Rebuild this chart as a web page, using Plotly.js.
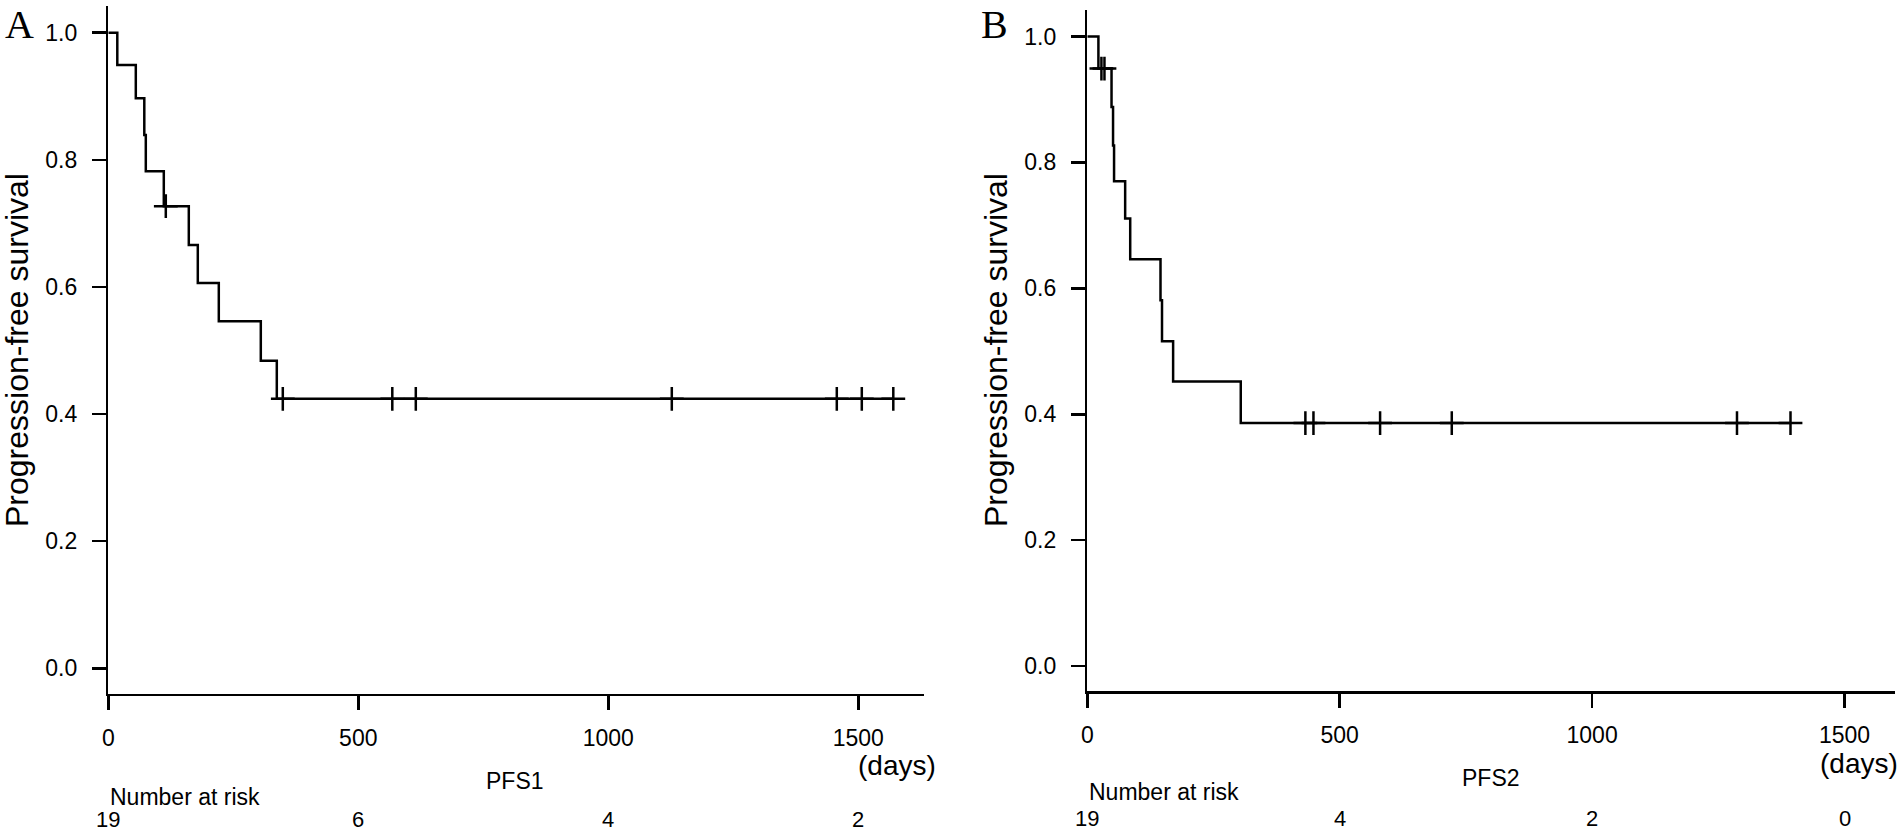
<!DOCTYPE html>
<html>
<head>
<meta charset="utf-8">
<script src="https://cdn.plot.ly/plotly-3.0.1.min.js"></script>
<style>
  html, body { margin: 0; padding: 0; background: #fff; }
  #chart { width: 1902px; height: 832px; }
</style>
</head>
<body>
<div id="chart"></div>
<script>
// ---- Data ----
// Panel A (PFS1): Kaplan-Meier step points
var pfs1Times = [0, 18, 55, 72, 75, 111, 161, 179, 221, 305, 337, 1570];
var pfs1Surv  = [1.0, 0.949, 0.897, 0.839, 0.782, 0.727, 0.666, 0.606, 0.546, 0.484, 0.424, 0.424];
var pfs1CensorTimes = [115, 349, 568, 615, 1127, 1457, 1507, 1570];
var pfs1RiskTimes = [0, 500, 1000, 1500];
var pfs1AtRisk = ["19", "6", "4", "2"];

// Panel B (PFS2)
var pfs2Times = [0, 22, 48, 51, 53, 75, 85, 145, 148, 170, 304, 1393];
var pfs2Surv  = [1.0, 0.949, 0.888, 0.827, 0.770, 0.711, 0.646, 0.581, 0.516, 0.452, 0.386, 0.386];
var pfs2CensorTimes = [28, 34, 432, 448, 580, 722, 1287, 1393];
var pfs2RiskTimes = [0, 500, 1000, 1500];
var pfs2AtRisk = ["19", "4", "2", "0"];

var xTickVals = [0, 500, 1000, 1500];
var yTickVals = [0, 0.2, 0.4, 0.6, 0.8, 1.0];

// ---- helpers ----
function survAt(times, surv, t) {
  var s = surv[0];
  for (var i = 0; i < times.length; i++) { if (times[i] <= t) s = surv[i]; }
  return s;
}

var W = 1902, H = 832;
function px(x) { return x / W; }
function py(y) { return (H - y) / H; }

var FONT = "Liberation Sans, Arial, Helvetica, sans-serif";
var SERIF = "Liberation Serif, Times New Roman, serif";
var LW = 2.5;

var traces = [
  { x: pfs1Times, y: pfs1Surv, type: "scatter", mode: "lines",
    line: { shape: "hv", color: "#000", width: LW }, xaxis: "x", yaxis: "y" },
  { x: pfs1CensorTimes, y: pfs1CensorTimes.map(function (t) { return survAt(pfs1Times, pfs1Surv, t); }),
    type: "scatter", mode: "markers", cliponaxis: false,
    marker: { symbol: "cross-thin", size: 17, line: { color: "#000", width: LW } }, xaxis: "x", yaxis: "y" },
  { x: pfs2Times, y: pfs2Surv, type: "scatter", mode: "lines",
    line: { shape: "hv", color: "#000", width: LW }, xaxis: "x2", yaxis: "y2" },
  { x: pfs2CensorTimes, y: pfs2CensorTimes.map(function (t) { return survAt(pfs2Times, pfs2Surv, t); }),
    type: "scatter", mode: "markers", cliponaxis: false,
    marker: { symbol: "cross-thin", size: 17, line: { color: "#000", width: LW } }, xaxis: "x2", yaxis: "y2" }
];

function xAxis(domain, range, anchor) {
  return {
    domain: domain, range: range, anchor: anchor,
    showline: true, linecolor: "#000", linewidth: LW,
    showgrid: false, zeroline: false,
    ticks: "outside", ticklen: 14, tickwidth: LW, tickcolor: "#000",
    tickvals: xTickVals, ticktext: xTickVals.map(String),
    tickfont: { family: FONT, size: 23, color: "#000" },
    ticklabelstandoff: 8, fixedrange: true
  };
}
function yAxis(domain, anchor) {
  return {
    domain: domain, range: [-0.04, 1.042], anchor: anchor,
    showline: true, linecolor: "#000", linewidth: LW,
    showgrid: false, zeroline: false,
    ticks: "outside", ticklen: 14, tickwidth: LW, tickcolor: "#000",
    tickvals: yTickVals, ticktext: yTickVals.map(function (v) { return v.toFixed(1); }),
    tickfont: { family: FONT, size: 23, color: "#000" },
    ticklabelstandoff: 10, fixedrange: true
  };
}

var annotations = [];
function txt(x, y, text, size, opts) {
  var a = { xref: "paper", yref: "paper", x: x, y: y, text: text, showarrow: false, borderpad: 0,
            font: { family: FONT, size: size, color: "#000" }, xanchor: "center", yanchor: "middle" };
  for (var k in (opts || {})) a[k] = opts[k];
  annotations.push(a);
}

// Panel A texts
txt(px(19), py(24), "A", 40, { font: { family: SERIF, size: 40, color: "#000" } });
txt(px(17), py(350), "Progression-free survival", 32, { textangle: -90 });
txt(px(897), py(765), "(days)", 28);
txt(px(515), py(781), "PFS1", 23);
txt(px(109), py(797), "Number at risk", 23, { xanchor: "left" });
pfs1RiskTimes.forEach(function (t, i) {
  annotations.push({ xref: "x", yref: "paper", x: t, y: py(819), text: pfs1AtRisk[i], showarrow: false,
    borderpad: 0, font: { family: FONT, size: 22, color: "#000" }, xanchor: "center", yanchor: "middle" });
});

// Panel B texts
txt(px(994), py(24), "B", 40, { font: { family: SERIF, size: 40, color: "#000" } });
txt(px(996), py(350), "Progression-free survival", 32, { textangle: -90 });
txt(px(1859), py(763), "(days)", 28);
txt(px(1491), py(778), "PFS2", 23);
txt(px(1088), py(792), "Number at risk", 23, { xanchor: "left" });
pfs2RiskTimes.forEach(function (t, i) {
  annotations.push({ xref: "x2", yref: "paper", x: t, y: py(818), text: pfs2AtRisk[i], showarrow: false,
    borderpad: 0, font: { family: FONT, size: 22, color: "#000" }, xanchor: "center", yanchor: "middle" });
});

var layout = {
  width: W, height: H,
  margin: { l: 0, r: 0, t: 0, b: 0, pad: 0 },
  paper_bgcolor: "#fff", plot_bgcolor: "#fff",
  showlegend: false, hovermode: false,
  font: { family: FONT, color: "#000" },
  xaxis: xAxis([px(108.3), px(924.3)], [0, 1632], "y"),
  yaxis: yAxis([py(693.7), py(6)], "x"),
  xaxis2: xAxis([px(1087.3), px(1895)], [0, 1600], "y2"),
  yaxis2: yAxis([py(691.3), py(10)], "x2"),
  annotations: annotations
};

Plotly.newPlot("chart", traces, layout, { staticPlot: true, displayModeBar: false });
</script>
</body>
</html>
